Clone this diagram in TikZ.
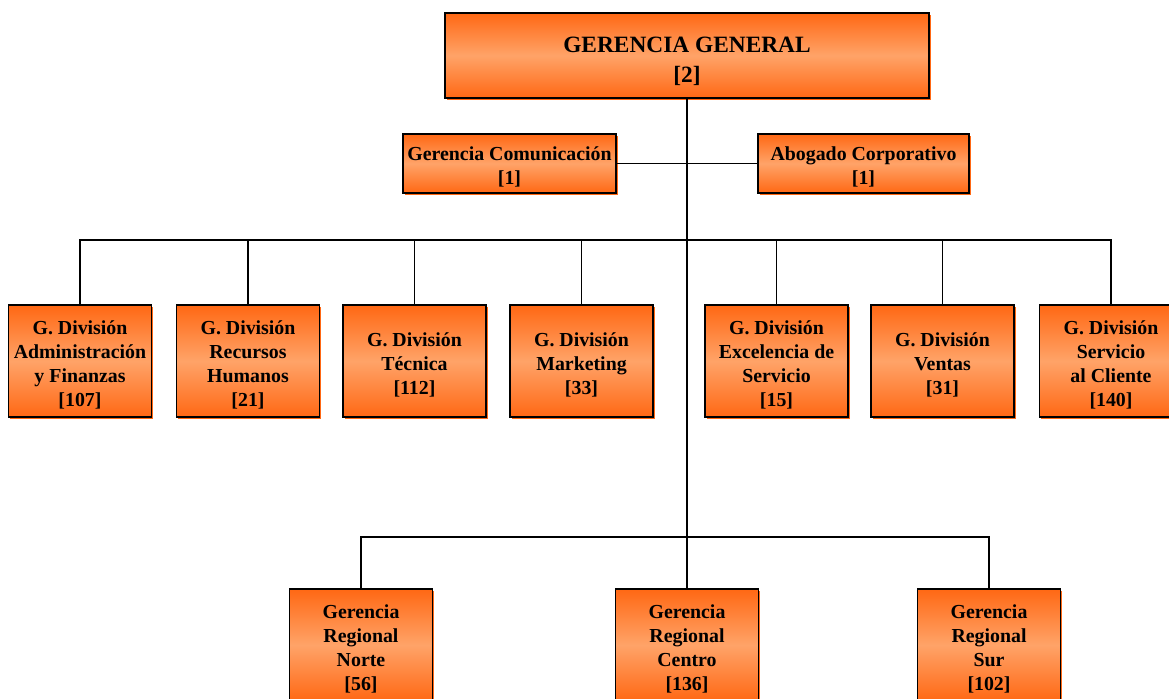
\documentclass[tikz,border=0pt]{standalone}
\usepackage{fontspec}
\setmainfont{Liberation Serif}
\usetikzlibrary{shadows}
\definecolor{naranja}{RGB}{255,104,20}
\definecolor{naranjaclaro}{RGB}{255,163,104}
\newcommand{\margen}{\rule{0pt}{12pt}}
\tikzstyle{unidad}=[rectangle,draw=black,line width=0.8pt,top color=naranja,bottom color=naranja,middle color=naranjaclaro,align=center,inner sep=0pt,font=\bfseries\fontsize{11.3}{13.6}\selectfont,drop shadow={shadow xshift=0.035cm,shadow yshift=-0.035cm,fill=naranja,opacity=1}]
\tikzstyle{division}=[unidad,minimum width=2.86cm,minimum height=2.24cm]
\tikzstyle{enlace}=[line width=1.1pt]

\begin{document}
\begin{tikzpicture}
\useasboundingbox (0,0) rectangle (23.38,-13.96);
\node[unidad,minimum width=9.68cm,minimum height=1.70cm,font=\bfseries\fontsize{13.3}{17}\selectfont] at (13.74,-1.11) (gg) {\rule{0pt}{15pt}GERENCIA GENERAL\\{[2]}};
\node[unidad,minimum width=4.26cm,minimum height=1.18cm] at (10.19,-3.27) (gc) {\margen Gerencia Comunicación\\{[1]}};
\node[unidad,minimum width=4.22cm,minimum height=1.18cm] at (17.27,-3.27) (ac) {\margen Abogado Corporativo\\{[1]}};
\node[division] at (1.60,-7.22) (af) {\margen G. División\\Administración\\y Finanzas\\{[107]}};
\node[division] at (4.96,-7.22) (rh) {\margen G. División\\Recursos\\Humanos\\{[21]}};
\node[division] at (8.29,-7.22) (te) {\margen G. División\\Técnica\\{[112]}};
\node[division] at (11.63,-7.22) (mk) {\margen G. División\\Marketing\\{[33]}};
\node[division] at (15.53,-7.22) (ex) {\margen G. División\\Excelencia de\\Servicio\\{[15]}};
\node[division] at (18.85,-7.22) (ve) {\margen G. División\\Ventas\\{[31]}};
\node[division] at (22.22,-7.22) (sc) {\margen G. División\\Servicio\\al Cliente\\{[140]}};
\node[division] at (7.22,-12.90) (rn) {\margen Gerencia\\Regional\\Norte\\{[56]}};
\node[division] at (13.74,-12.90) (rc) {\margen Gerencia\\Regional\\Centro\\{[136]}};
\node[division] at (19.78,-12.90) (rs) {\margen Gerencia\\Regional\\Sur\\{[102]}};
\coordinate (barra) at (0,-4.80);
\coordinate (barrareg) at (0,-10.74);
% staff
\draw[enlace] (gc.east) -- (ac.west);
\draw[enlace] (gg.south) -- (rc.north);
% divisiones
\draw[enlace] (af.north) -- (af.north |- barra) -- (sc.north |- barra) -- (sc.north);
\draw[enlace] (rh.north) -- (rh.north |- barra);
\draw[enlace] (te.north) -- (te.north |- barra);
\draw[enlace] (mk.north) -- (mk.north |- barra);
\draw[enlace] (ex.north) -- (ex.north |- barra);
\draw[enlace] (ve.north) -- (ve.north |- barra);
% regionales
\draw[enlace] (rn.north) -- (rn.north |- barrareg) -- (rs.north |- barrareg) -- (rs.north);
\end{tikzpicture}
\end{document}
